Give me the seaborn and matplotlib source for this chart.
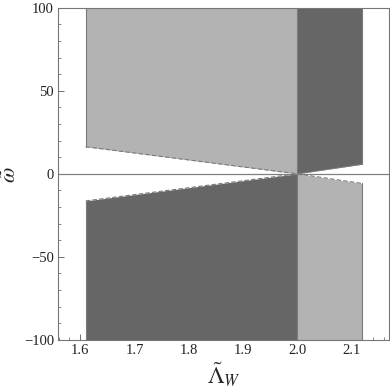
import numpy as np
import pandas as pd
import matplotlib
matplotlib.use("Agg")
import matplotlib.pyplot as plt
import seaborn as sns

# boundary points (Lambda_W, omega)
lam_left = [1.61, 2.0]
lam_right = [2.0, 2.12]
upper_left = [16.3, 0.0]     # lower edge of light region (top-left)
lower_left = [-16.3, 0.0]    # upper edge of dark region (bottom-left)
upper_right = [0.0, 5.8]     # lower edge of dark region (top-right)
lower_right = [0.0, -5.8]    # upper edge of light region (bottom-right)
y_top, y_bot = 100, -100

light = "#b3b3b3"
dark = "#666666"
edge = "#7a7a7a"

sns.set_style("ticks")
plt.rcParams['font.family'] = ['Liberation Serif', 'DejaVu Serif']
plt.rcParams['mathtext.fontset'] = 'stix'

fig = plt.figure(figsize=(3.9, 3.88), dpi=100)
ax = fig.add_axes([0.149, 0.124, 0.849, 0.856])

ax.fill_between(lam_left, upper_left, y_top, color=light, lw=0)
ax.fill_between(lam_left, y_bot, lower_left, color=dark, lw=0)
ax.fill_between(lam_right, upper_right, y_top, color=dark, lw=0)
ax.fill_between(lam_right, y_bot, lower_right, color=light, lw=0)

edges = pd.DataFrame({
    "x": lam_left + lam_left + lam_right + lam_right,
    "y": upper_left + lower_left + upper_right + lower_right,
    "seg": ["a", "a", "b", "b", "c", "c", "d", "d"],
})
sns.lineplot(data=edges, x="x", y="y", units="seg", estimator=None,
             color=edge, lw=0.8, ls=(0, (4, 2)), ax=ax)
for xv, y0, y1 in [(1.61, upper_left[0], y_top), (1.61, y_bot, lower_left[0]),
                   (2.0, y_bot, y_top), (2.12, upper_right[1], y_top),
                   (2.12, y_bot, lower_right[1])]:
    ax.plot([xv, xv], [y0, y1], color=edge, lw=0.8)
ax.axhline(0, color="#808080", lw=0.9)

ax.set_xlim(1.559, 2.17)
ax.set_ylim(-100, 100)
ax.set_xticks([1.6, 1.7, 1.8, 1.9, 2.0, 2.1])
ax.set_xticklabels(["1.6", "1.7", "1.8", "1.9", "2.0", "2.1"])
ax.set_yticks([-100, -50, 0, 50, 100])
ax.set_yticklabels(["\u2212100", "\u221250", "0", "50", "100"])
ax.set_xticks(np.arange(1.56, 2.17, 0.02), minor=True)
ax.set_yticks(np.arange(-100, 101, 10), minor=True)
ax.tick_params(which="major", direction="in", length=4, width=0.6, color="#555555",
               labelsize=10.5, pad=3, labelcolor="#222222")
ax.tick_params(which="minor", direction="in", length=2, width=0.5, color="#555555")
for s in ax.spines.values():
    s.set_color("#777777")
    s.set_linewidth(0.8)

ax.set_xlabel(r"$\tilde{\Lambda}_W$", fontsize=17, labelpad=2)
ax.set_ylabel("")
fig.text(11 / 390, 0.55, r"$\tilde{\omega}$", fontsize=16, rotation=90,
         ha="center", va="center")

fig.savefig("out.png", dpi=100)
